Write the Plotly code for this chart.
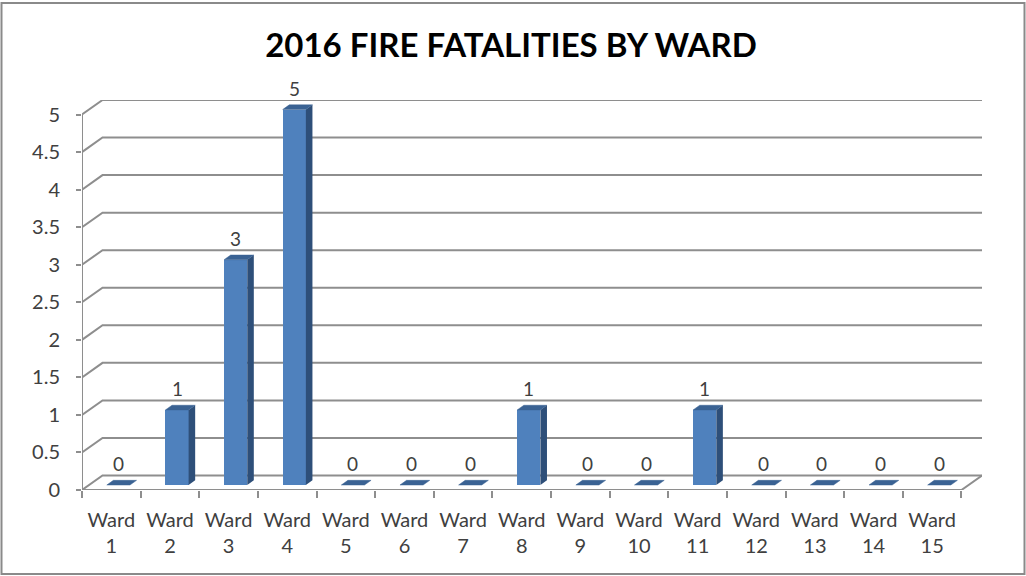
import plotly.graph_objects as go

# ---- data ----
wards = [f"Ward<br>{i}" for i in range(1, 16)]
fatalities = [0, 1, 3, 5, 0, 0, 0, 1, 0, 0, 1, 0, 0, 0, 0]
y_ticks = [0, 0.5, 1, 1.5, 2, 2.5, 3, 3.5, 4, 4.5, 5]
title_text = "2016 FIRE FATALITIES BY WARD"

# ---- 3D geometry (in axis units) ----
DX = 0.35      # depth offset in category units
DY = 0.1933    # depth offset in value units
F_FRONT = 0.345
F_BACK = 0.665
BAR_W = 0.395

FRONT = "#4F81BD"
SIDE = "#2E4F79"
TOP = "#3A6293"
GRID = "#8e8e8e"
TXT = "#404040"
FONT = "Lato"

n = len(wards)
xs = list(range(n))
x_lo, x_hi = -0.5, n - 0.5

fig = go.Figure()

# gridlines (drawn below the traces): left side diagonals + back wall horizontals
grid_line = dict(color=GRID, width=2)
for v in y_ticks:
    fig.add_shape(type="path", xref="x", yref="y", layer="below", line=grid_line,
                  path=f"M {x_lo} {v} L {x_lo + DX} {v + DY} L {x_hi + DX} {v + DY}")
# front value axis, front category axis and right floor edge
fig.add_shape(type="path", xref="x", yref="y", layer="below", line=grid_line,
              path=f"M {x_lo} {y_ticks[-1]} L {x_lo} 0 L {x_hi} 0 L {x_hi + DX} {DY}")

# front faces
face_x = [i + F_FRONT * DX for i in xs]
fig.add_trace(go.Bar(x=face_x, y=fatalities, base=[F_FRONT * DY] * n, width=BAR_W,
                     marker=dict(color=FRONT, line=dict(width=0)), showlegend=False,
                     hoverinfo="skip"))

# side and top faces
sx, sy, tx, ty = [], [], [], []
dd = (F_BACK - F_FRONT)
for cx, v in zip(face_x, fatalities):
    xl, xr = cx - BAR_W / 2, cx + BAR_W / 2
    yb, yt = F_FRONT * DY, v + F_FRONT * DY
    if v > 0:
        sx += [xr, xr + dd * DX, xr + dd * DX, xr, xr, None]
        sy += [yb, yb + dd * DY, yt + dd * DY, yt, yb, None]
    tx += [xl, xr, xr + dd * DX, xl + dd * DX, xl, None]
    ty += [yt, yt, yt + dd * DY, yt + dd * DY, yt, None]
fig.add_trace(go.Scatter(x=sx, y=sy, mode="lines", fill="toself", fillcolor=SIDE,
                         line=dict(width=0, color=SIDE), hoverinfo="skip", showlegend=False))
fig.add_trace(go.Scatter(x=tx, y=ty, mode="lines", fill="toself", fillcolor=TOP,
                         line=dict(width=0.5, color=TOP), hoverinfo="skip", showlegend=False))

# data labels
for cx, v in zip(face_x, fatalities):
    fig.add_annotation(x=cx, y=v + F_BACK * DY, text=str(v), showarrow=False,
                       yanchor="bottom", yshift=3, font=dict(family=FONT, size=19, color=TXT))

W, H = 1026, 576
ML, MR, MT, MB = 82, 44, 100, 86
pw, ph = W - ML - MR, H - MT - MB

def px_x(p):
    return (p - ML) / pw

def px_y(p):
    return (H - MB - p) / ph

fig.add_shape(type="rect", xref="paper", yref="paper",
              x0=px_x(1.5), x1=px_x(1024.5), y0=px_y(574), y1=px_y(3),
              line=dict(color="#8a8a8a", width=2), layer="below")

fig.update_layout(
    width=W, height=H,
    margin=dict(l=ML, r=MR, t=MT, b=MB),
    paper_bgcolor="white", plot_bgcolor="white",
    bargap=0,
    title=dict(text=title_text, x=511 / W, xanchor="center", xref="container",
               y=1 - 45 / H, yanchor="middle", yref="container",
               font=dict(family=FONT, size=33, color="black", weight="bold")),
    xaxis=dict(range=[x_lo, x_hi + DX], tickmode="array", tickvals=xs, ticktext=wards,
               ticks="", showgrid=False, zeroline=False, showline=False,
               ticklabelstandoff=16,
               tickfont=dict(family=FONT, size=20, color=TXT),
               minor=dict(tickmode="array", tickvals=[x_lo + k for k in range(n + 1)],
                          ticks="outside", ticklen=7, tickcolor=GRID, tickwidth=2, showgrid=False)),
    yaxis=dict(range=[0, y_ticks[-1] + DY], tickmode="array", tickvals=y_ticks,
               ticks="outside", ticklen=5, tickcolor=GRID, tickwidth=2,
               showgrid=False, zeroline=False, showline=False,
               ticklabelstandoff=12,
               tickfont=dict(family=FONT, size=20, color=TXT)),
    font=dict(family=FONT),
)

fig.write_html("out.html", config={"displayModeBar": False},
               post_script="document.body.style.margin='0';document.body.style.overflow='hidden';")
